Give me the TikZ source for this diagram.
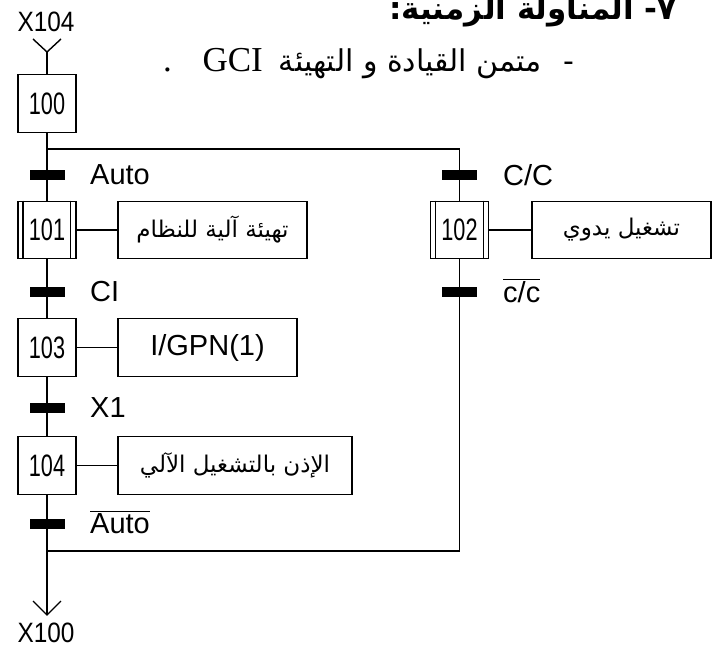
\documentclass[tikz,border=0pt]{standalone}
\usepackage{fontspec}
\setmainfont{Liberation Sans}
\newfontfamily\stepfont[FakeStretch=0.70]{Liberation Sans}
\newfontfamily\xfont[FakeStretch=0.87]{Liberation Sans}
\newfontfamily\arabicfont[Script=Arabic]{DejaVu Sans}
\newfontfamily\latinserif{Liberation Serif}
\TeXXeTstate=1
\tikzset{
  line/.style={line width=1.4pt},
  stepbox/.style={draw, line width=1.4pt, minimum width=58pt, minimum height=57.5pt, inner sep=0pt,
    font=\stepfont\fontsize{31}{31}\selectfont},
  actbox/.style={draw, line width=1.4pt, minimum height=57.5pt, inner sep=0pt},
  tbar/.style={fill=black, minimum width=35pt, minimum height=10pt, inner sep=0pt},
  tlabel/.style={anchor=west, inner sep=0pt, font=\fontsize{29}{29}\selectfont},
  xlabel/.style={inner sep=0pt, font=\xfont\fontsize{28}{28}\selectfont},
  artext/.style={font=\arabicfont\fontsize{23}{23}\selectfont},
}
\begin{document}
\begin{tikzpicture}[x=1pt,y=-1pt]
\useasboundingbox (0,0) rectangle (717,650);
% header
\node[anchor=base east, inner sep=0pt, font=\arabicfont\bfseries\fontsize{31}{31}\selectfont] (h1) at (677,20) {\beginR ٧- المناولة الزمنية:\endR};
\node[anchor=base east, inner sep=0pt, font=\arabicfont\fontsize{30}{30}\selectfont] (h2dash) at (575,72) {-};
\node[anchor=base east, inner sep=0pt, font=\arabicfont\fontsize{30}{30}\selectfont] (h2ar) at (542,72) {\beginR متمن القيادة و التهيئة\endR};
\node[anchor=base east, inner sep=0pt, font=\latinserif\fontsize{35}{35}\selectfont] (h2gci) at (263,72) {GCI};
\node[anchor=base west, inner sep=0pt, font=\latinserif\fontsize{35}{35}\selectfont] (h2dot) at (163,72) {.};
% steps
\node[xlabel] (x104) at (46,22) {X104};
\coordinate (yc) at (47,52);
\coordinate (yl) at (33,39);
\coordinate (yr) at (61,39);
\node[stepbox] (s100) at (47,103.5) {100};
\node[stepbox] (s101) at (47,230) {101};
\node[stepbox] (s102) at (459.5,230) {102};
\node[stepbox] (s103) at (47,347.5) {103};
\node[stepbox] (s104) at (47,465.5) {104};
% encapsulating inner lines
\draw[line] ([xshift=5.5pt]s101.north west) -- ([xshift=5.5pt]s101.south west);
\draw[line] ([xshift=-6pt]s101.north east) -- ([xshift=-6pt]s101.south east);
\draw[line] ([xshift=5.5pt]s102.north west) -- ([xshift=5.5pt]s102.south west);
\draw[line] ([xshift=-6pt]s102.north east) -- ([xshift=-6pt]s102.south east);
% actions
\node[actbox, artext, minimum width=189pt] (a101) at (212.5,230) {\beginR تهيئة آلية للنظام\endR};
\node[actbox, artext, minimum width=179pt] (a102) at (621.5,230) {\beginR تشغيل يدوي\endR};
\node[actbox, minimum width=179pt, font=\fontsize{29}{29}\selectfont] (a103) at (207.5,347.5) {I/GPN(1)};
\node[actbox, artext, minimum width=234pt] (a104) at (235,465.5) {\beginR الإذن بالتشغيل الآلي\endR};
\draw[line] (s101.east) -- (a101.west);
\draw[line] (s102.east) -- (a102.west);
\draw[line] (s103.east) -- (a103.west);
\draw[line] (s104.east) -- (a104.west);
% links
\coordinate (d1) at (47,149);
\coordinate (d2) at (459.5,149);
\coordinate (c1) at (459.5,551);
\coordinate (c2) at (47,551);
\coordinate (tip) at (47,615);
\coordinate (al) at (33,601);
\coordinate (ar) at (61,601);
\draw[line] (yl) -- (yc) -- (yr);
\draw[line] (yc) -- (s100.north);
\draw[line] (s100.south) -- (s101.north);
\draw[line] (d1) -- (d2) -- (s102.north);
\draw[line] (s101.south) -- (s103.north);
\draw[line] (s103.south) -- (s104.north);
\draw[line] (s104.south) -- (tip);
\draw[line] (s102.south) -- (c1) -- (c2);
\draw[line] (al) -- (tip) -- (ar);
\node[xlabel] (x100) at (46,633) {X100};
% transitions
\node[tbar] (t1) at (47,175) {};
\node[tbar] (t2) at (459.5,175) {};
\node[tbar] (t3) at (47,292) {};
\node[tbar] (t4) at (459.5,292) {};
\node[tbar] (t5) at (47,408) {};
\node[tbar] (t6) at (47,524) {};
\node[tlabel] (l1) at (90,175) {Auto};
\node[tlabel] (l2) at (503,175) {C/C};
\node[tlabel] (l3) at (90,292) {CI};
\node[tlabel, anchor=base west] (l4) at (503,302) {$\overline{\mbox{c/c}}$};
\node[tlabel] (l5) at (90,408) {X1};
\node[tlabel, anchor=base west] (l6) at (90,533) {$\overline{\mbox{Auto}}$};
\end{tikzpicture}
\end{document}
